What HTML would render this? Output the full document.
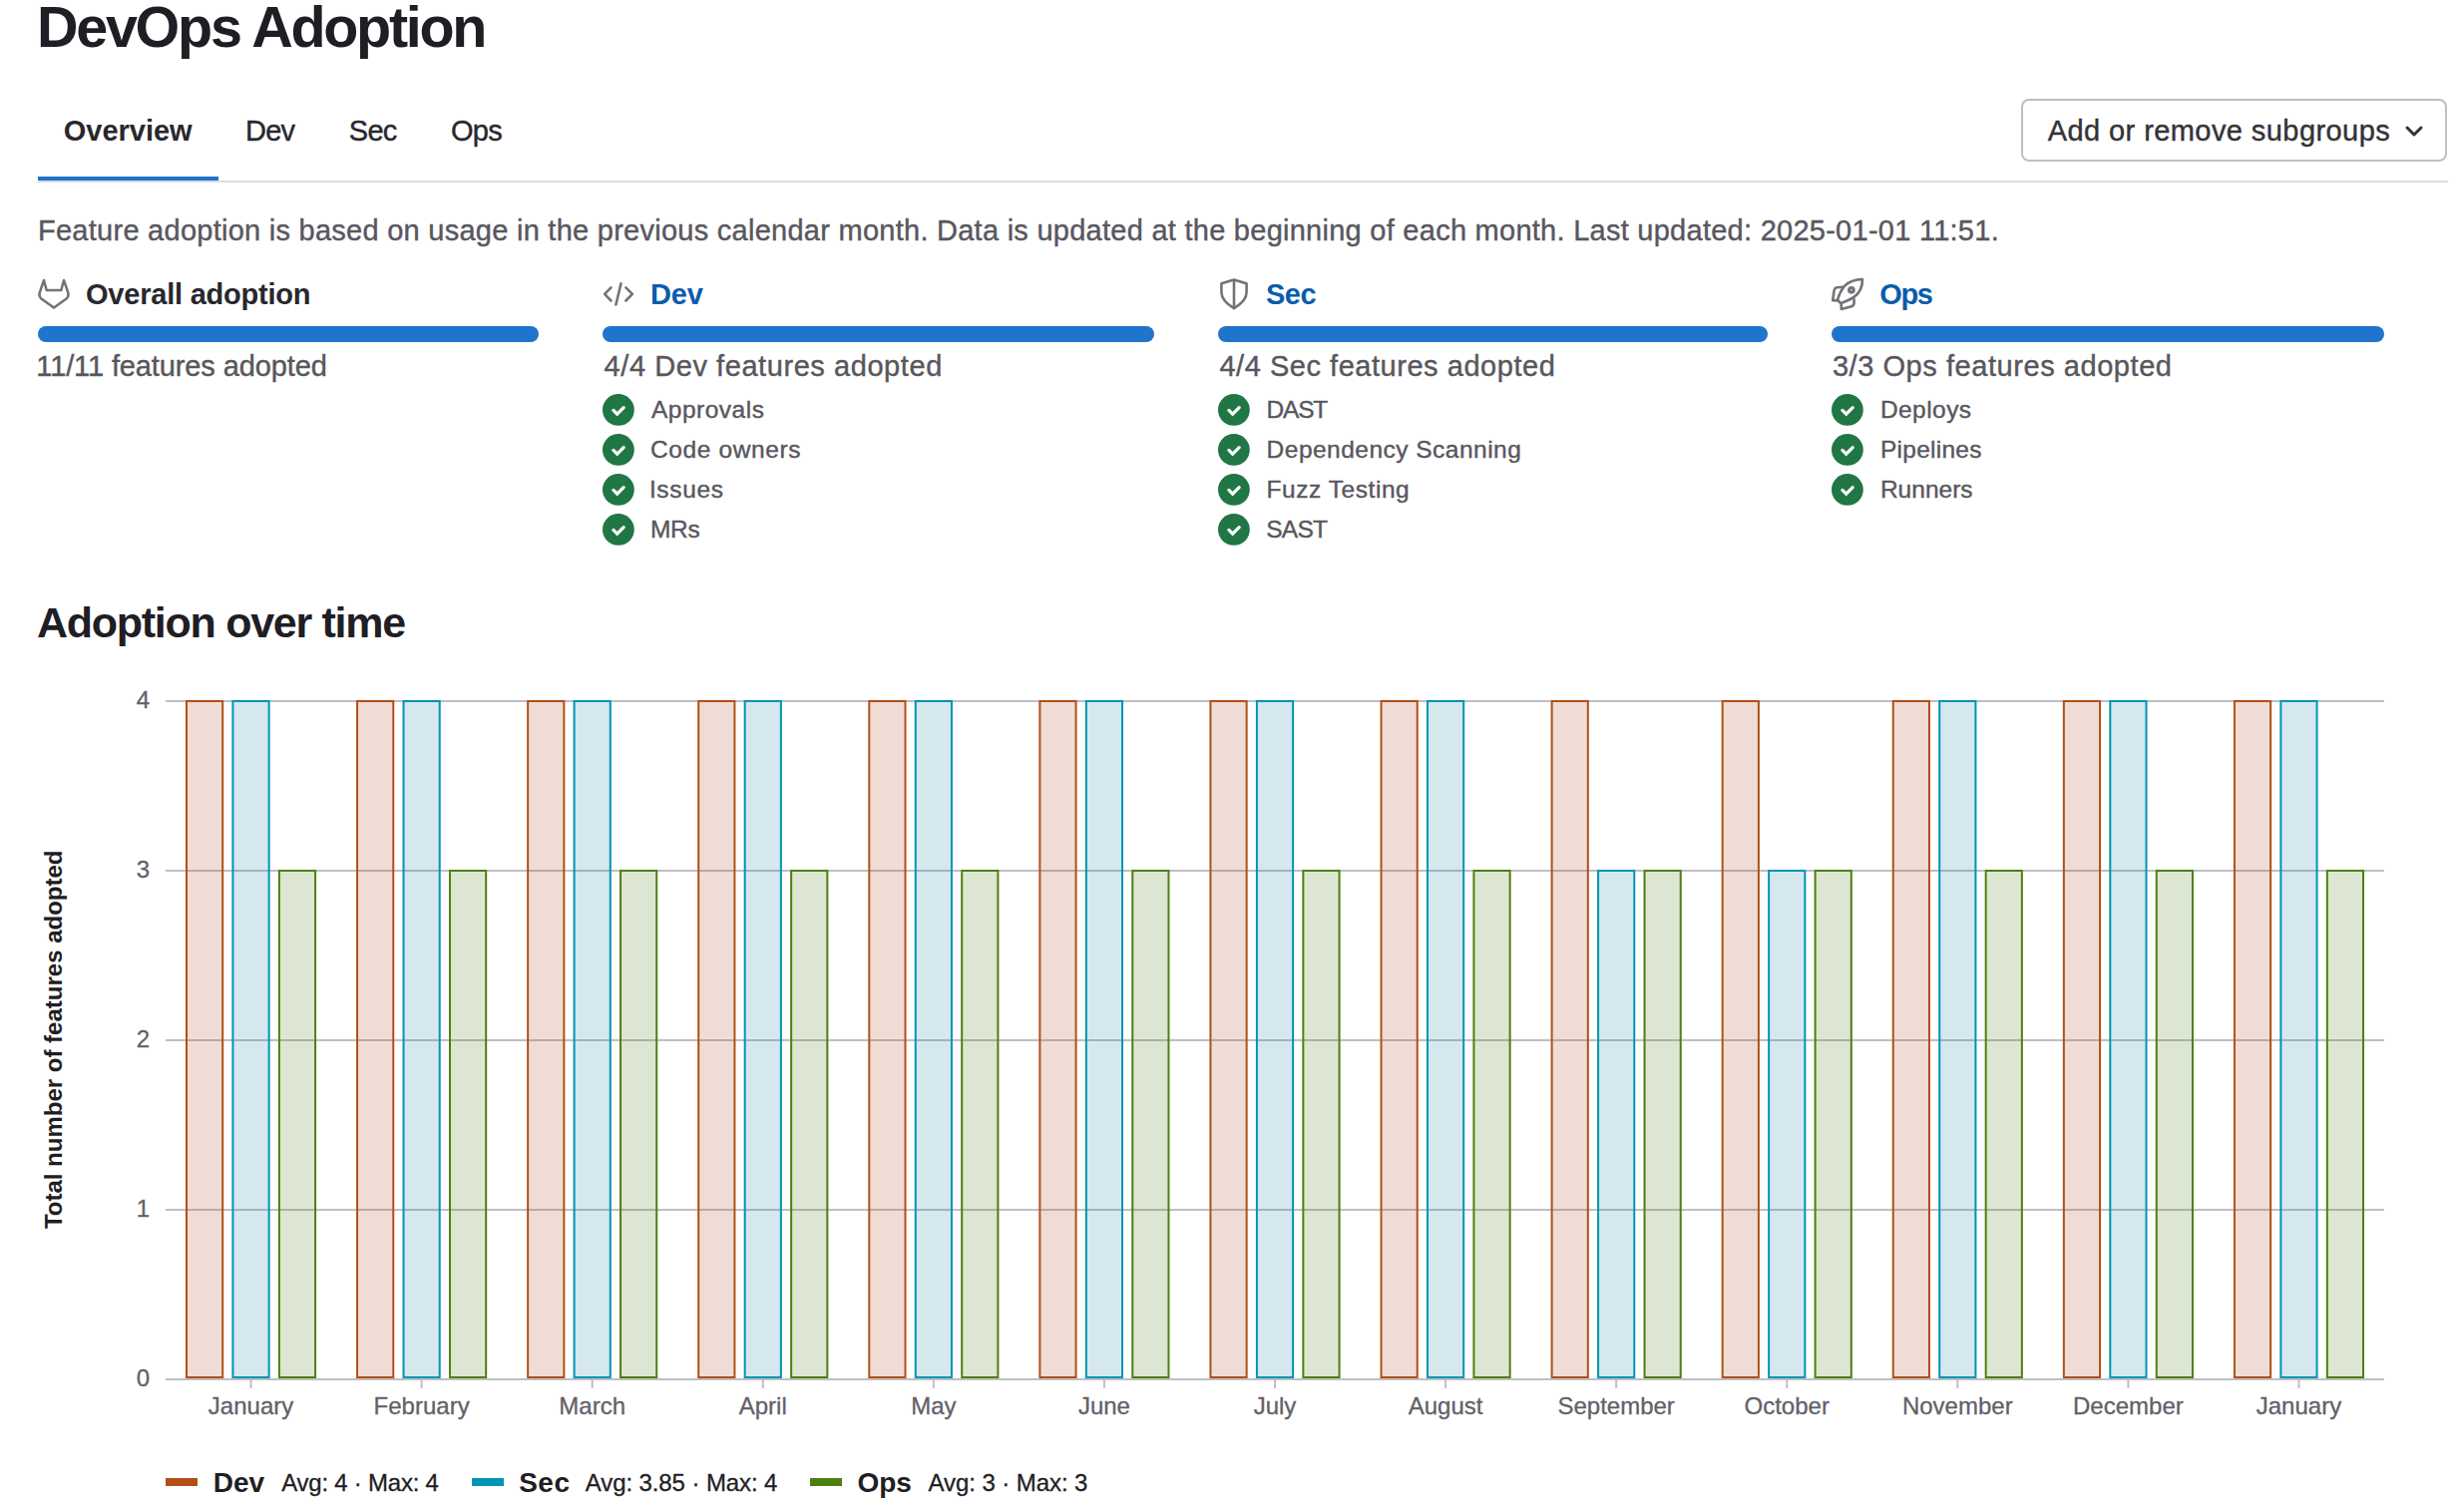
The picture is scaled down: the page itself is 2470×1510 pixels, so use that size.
<!DOCTYPE html>
<html><head><meta charset="utf-8"><title>DevOps Adoption</title>
<style>
html,body{margin:0;padding:0;background:#fff;}
body{width:2470px;height:1510px;position:relative;overflow:hidden;font-family:"Liberation Sans",sans-serif;}
.t{position:absolute;white-space:nowrap;line-height:1;}
svg{position:absolute;left:0;top:0;}
</style></head><body>
<div style="position:absolute;left:38px;top:181px;width:2416px;height:2px;background:#dcdcde;"></div>
<div style="position:absolute;left:38px;top:177px;width:181px;height:4px;background:#1f75cb;"></div>
<div style="position:absolute;left:2026px;top:99px;width:423px;height:59px;border:2px solid #bfbfc3;border-radius:8px;"></div>
<div style="position:absolute;left:38px;top:327px;width:502px;height:16px;border-radius:8px;background:#1f75cb;"></div>
<div style="position:absolute;left:604px;top:327px;width:553px;height:16px;border-radius:8px;background:#1f75cb;"></div>
<div style="position:absolute;left:1221px;top:327px;width:551px;height:16px;border-radius:8px;background:#1f75cb;"></div>
<div style="position:absolute;left:1836px;top:327px;width:554px;height:16px;border-radius:8px;background:#1f75cb;"></div>
<div class="t" style="left:37.0px;top:-1.1px;font-size:57.5px;font-weight:700;color:#1f1e24;letter-spacing:-2.286px;">DevOps Adoption</div>
<div class="t" style="left:63.8px;top:116.8px;font-size:29px;font-weight:700;color:#28272d;letter-spacing:-0.029px;">Overview</div>
<div class="t" style="left:246.0px;top:116.8px;font-size:29px;font-weight:400;color:#28272d;letter-spacing:-0.750px;-webkit-text-stroke:0.4px #28272d;">Dev</div>
<div class="t" style="left:349.8px;top:116.8px;font-size:29px;font-weight:400;color:#28272d;letter-spacing:-0.700px;-webkit-text-stroke:0.4px #28272d;">Sec</div>
<div class="t" style="left:451.9px;top:116.8px;font-size:29px;font-weight:400;color:#28272d;letter-spacing:-0.650px;-webkit-text-stroke:0.4px #28272d;">Ops</div>
<div class="t" style="left:2052.7px;top:117.3px;font-size:29px;font-weight:400;color:#333238;letter-spacing:0.423px;-webkit-text-stroke:0.4px #333238;">Add or remove subgroups</div>
<div class="t" style="left:38.0px;top:217.0px;font-size:29px;font-weight:400;color:#58575e;letter-spacing:0.262px;-webkit-text-stroke:0.4px #58575e;">Feature adoption is based on usage in the previous calendar month. Data is updated at the beginning of each month. Last updated: 2025-01-01 11:51.</div>
<div class="t" style="left:86.0px;top:281.0px;font-size:29px;font-weight:700;color:#28272d;letter-spacing:-0.220px;">Overall adoption</div>
<div class="t" style="left:651.9px;top:281.1px;font-size:29px;font-weight:700;color:#0b5cad;letter-spacing:-0.100px;">Dev</div>
<div class="t" style="left:1269.0px;top:281.0px;font-size:29px;font-weight:700;color:#0b5cad;letter-spacing:-0.500px;">Sec</div>
<div class="t" style="left:1884.3px;top:281.0px;font-size:29px;font-weight:700;color:#0b5cad;letter-spacing:-1.350px;">Ops</div>
<div class="t" style="left:36.3px;top:353.4px;font-size:29px;font-weight:400;color:#58575e;letter-spacing:-0.119px;-webkit-text-stroke:0.4px #58575e;">11/11 features adopted</div>
<div class="t" style="left:605.6px;top:352.9px;font-size:29px;font-weight:400;color:#58575e;letter-spacing:0.565px;-webkit-text-stroke:0.4px #58575e;">4/4 Dev features adopted</div>
<div class="t" style="left:1222.4px;top:352.9px;font-size:29px;font-weight:400;color:#58575e;letter-spacing:0.535px;-webkit-text-stroke:0.4px #58575e;">4/4 Sec features adopted</div>
<div class="t" style="left:1836.9px;top:352.9px;font-size:29px;font-weight:400;color:#58575e;letter-spacing:0.557px;-webkit-text-stroke:0.4px #58575e;">3/3 Ops features adopted</div>
<div class="t" style="left:652.9px;top:398.9px;font-size:24.5px;font-weight:400;color:#58575e;letter-spacing:0.513px;-webkit-text-stroke:0.4px #58575e;">Approvals</div>
<div class="t" style="left:651.9px;top:438.8px;font-size:24.5px;font-weight:400;color:#58575e;letter-spacing:0.630px;-webkit-text-stroke:0.4px #58575e;">Code owners</div>
<div class="t" style="left:650.9px;top:478.9px;font-size:24.5px;font-weight:400;color:#58575e;letter-spacing:0.660px;-webkit-text-stroke:0.4px #58575e;">Issues</div>
<div class="t" style="left:651.9px;top:518.9px;font-size:24.5px;font-weight:400;color:#58575e;letter-spacing:-0.300px;-webkit-text-stroke:0.4px #58575e;">MRs</div>
<div class="t" style="left:1269.6px;top:398.9px;font-size:24.5px;font-weight:400;color:#58575e;letter-spacing:-1.200px;-webkit-text-stroke:0.4px #58575e;">DAST</div>
<div class="t" style="left:1269.6px;top:438.8px;font-size:24.5px;font-weight:400;color:#58575e;letter-spacing:0.483px;-webkit-text-stroke:0.4px #58575e;">Dependency Scanning</div>
<div class="t" style="left:1269.6px;top:478.9px;font-size:24.5px;font-weight:400;color:#58575e;letter-spacing:0.545px;-webkit-text-stroke:0.4px #58575e;">Fuzz Testing</div>
<div class="t" style="left:1269.3px;top:518.9px;font-size:24.5px;font-weight:400;color:#58575e;letter-spacing:-0.800px;-webkit-text-stroke:0.4px #58575e;">SAST</div>
<div class="t" style="left:1884.9px;top:398.9px;font-size:24.5px;font-weight:400;color:#58575e;letter-spacing:0.450px;-webkit-text-stroke:0.4px #58575e;">Deploys</div>
<div class="t" style="left:1884.9px;top:438.8px;font-size:24.5px;font-weight:400;color:#58575e;letter-spacing:0.275px;-webkit-text-stroke:0.4px #58575e;">Pipelines</div>
<div class="t" style="left:1884.9px;top:478.9px;font-size:24.5px;font-weight:400;color:#58575e;letter-spacing:0.017px;-webkit-text-stroke:0.4px #58575e;">Runners</div>
<div class="t" style="left:37.1px;top:602.8px;font-size:43px;font-weight:700;color:#1f1e24;letter-spacing:-1.282px;">Adoption over time</div>
<div class="t" style="left:213.8px;top:1472.8px;font-size:28px;font-weight:700;color:#1f1e24;letter-spacing:-0.100px;">Dev</div>
<div class="t" style="left:282.2px;top:1475.1px;font-size:24px;font-weight:400;color:#1f1e24;letter-spacing:-0.229px;-webkit-text-stroke:0.3px #1f1e24;">Avg: 4 · Max: 4</div>
<div class="t" style="left:520.2px;top:1472.8px;font-size:28px;font-weight:700;color:#1f1e24;letter-spacing:0.500px;">Sec</div>
<div class="t" style="left:586.8px;top:1475.1px;font-size:24px;font-weight:400;color:#1f1e24;letter-spacing:-0.100px;-webkit-text-stroke:0.3px #1f1e24;">Avg: 3.85 · Max: 4</div>
<div class="t" style="left:859.5px;top:1472.8px;font-size:28px;font-weight:700;color:#1f1e24;letter-spacing:-0.100px;">Ops</div>
<div class="t" style="left:930.6px;top:1475.1px;font-size:24px;font-weight:400;color:#1f1e24;letter-spacing:-0.079px;-webkit-text-stroke:0.3px #1f1e24;">Avg: 3 · Max: 3</div>
<svg width="2470" height="1510" viewBox="0 0 2470 1510">
 <path d="M2413 128 L2420 135 L2427 128" fill="none" stroke="#333238" stroke-width="3" stroke-linecap="round" stroke-linejoin="round"/>
 <g transform="translate(38 279) scale(2)" fill="none" stroke="#737278" stroke-width="1.25" stroke-linejoin="round">
  <path d="M3 1 L4.35 6 H11.65 L13 1 L15.2 7.4 Q15.5 9.3 14.3 10.2 L8 14.8 L1.7 10.2 Q0.5 9.3 0.8 7.4 Z"/>
 </g>
 <g fill="none" stroke="#737278" stroke-width="2.6" stroke-linecap="round" stroke-linejoin="round">
  <path d="M612.5 288.4 L606.1 294.9 L612.5 301.5"/>
  <path d="M622.5 284.3 L617.4 305.5"/>
  <path d="M627.4 288.4 L633.9 294.9 L627.4 301.5"/>
 </g>
 <g fill="none" stroke="#737278" stroke-width="2.6" stroke-linejoin="round">
  <path d="M1237 280.6 L1249.6 284.2 V293 Q1249.6 301.5 1237 309.2 Q1224.4 301.5 1224.4 293 V284.2 Z"/>
  <path d="M1237 281 V308.5"/>
 </g>
 <g transform="translate(1836 279) scale(2)" fill="none" stroke="#737278" stroke-width="1.3" stroke-linejoin="round">
  <path d="M15.5 0.5 Q15.6 6.5 11 9.6 Q9 10.9 4.6 12.6 L3 10.8 Q4.2 6.6 6.6 3.8 Q9.6 0.7 15.5 0.5 Z"/>
  <path d="M6.1 4.4 L2.6 4.6 Q1.6 4.8 1.3 6.1 L0.6 11.1 L3.2 11.2"/>
  <path d="M11.3 10.1 L11.3 12.5 Q11.1 13.8 10 14.1 L4.9 15.5 L4.9 12.5"/>
  <circle cx="9.95" cy="5.9" r="1.15" stroke-width="1.55"/>
 </g>
 <circle cx="619.9" cy="410.9" r="15.9" fill="#217645"/><path d="M614.90 411.40 L618.65 415.15 L625.20 408.60" fill="none" stroke="#fff" stroke-width="3.2" stroke-linecap="round" stroke-linejoin="miter"/>
<circle cx="619.9" cy="450.9" r="15.9" fill="#217645"/><path d="M614.90 451.40 L618.65 455.15 L625.20 448.60" fill="none" stroke="#fff" stroke-width="3.2" stroke-linecap="round" stroke-linejoin="miter"/>
<circle cx="619.9" cy="490.9" r="15.9" fill="#217645"/><path d="M614.90 491.40 L618.65 495.15 L625.20 488.60" fill="none" stroke="#fff" stroke-width="3.2" stroke-linecap="round" stroke-linejoin="miter"/>
<circle cx="619.9" cy="530.9" r="15.9" fill="#217645"/><path d="M614.90 531.40 L618.65 535.15 L625.20 528.60" fill="none" stroke="#fff" stroke-width="3.2" stroke-linecap="round" stroke-linejoin="miter"/>
<circle cx="1236.9" cy="410.9" r="15.9" fill="#217645"/><path d="M1231.90 411.40 L1235.65 415.15 L1242.20 408.60" fill="none" stroke="#fff" stroke-width="3.2" stroke-linecap="round" stroke-linejoin="miter"/>
<circle cx="1236.9" cy="450.9" r="15.9" fill="#217645"/><path d="M1231.90 451.40 L1235.65 455.15 L1242.20 448.60" fill="none" stroke="#fff" stroke-width="3.2" stroke-linecap="round" stroke-linejoin="miter"/>
<circle cx="1236.9" cy="490.9" r="15.9" fill="#217645"/><path d="M1231.90 491.40 L1235.65 495.15 L1242.20 488.60" fill="none" stroke="#fff" stroke-width="3.2" stroke-linecap="round" stroke-linejoin="miter"/>
<circle cx="1236.9" cy="530.9" r="15.9" fill="#217645"/><path d="M1231.90 531.40 L1235.65 535.15 L1242.20 528.60" fill="none" stroke="#fff" stroke-width="3.2" stroke-linecap="round" stroke-linejoin="miter"/>
<circle cx="1851.9" cy="410.9" r="15.9" fill="#217645"/><path d="M1846.90 411.40 L1850.65 415.15 L1857.20 408.60" fill="none" stroke="#fff" stroke-width="3.2" stroke-linecap="round" stroke-linejoin="miter"/>
<circle cx="1851.9" cy="450.9" r="15.9" fill="#217645"/><path d="M1846.90 451.40 L1850.65 455.15 L1857.20 448.60" fill="none" stroke="#fff" stroke-width="3.2" stroke-linecap="round" stroke-linejoin="miter"/>
<circle cx="1851.9" cy="490.9" r="15.9" fill="#217645"/><path d="M1846.90 491.40 L1850.65 495.15 L1857.20 488.60" fill="none" stroke="#fff" stroke-width="3.2" stroke-linecap="round" stroke-linejoin="miter"/>
</svg>
<svg width="2470" height="1510" viewBox="0 0 2470 1510" style="font-family:'Liberation Sans',sans-serif;">
 <g stroke="#bfbfc3" stroke-width="2">
  <line x1="166" y1="703" x2="2390" y2="703"/>
  <line x1="166" y1="873" x2="2390" y2="873"/>
  <line x1="166" y1="1043" x2="2390" y2="1043"/>
  <line x1="166" y1="1213" x2="2390" y2="1213"/>
 </g>
 <rect x="187.00" y="703.0" width="36.20" height="678.0" fill="#af552d" fill-opacity="0.2" stroke="#b14f18" stroke-width="2"/>
<rect x="233.45" y="703.0" width="36.20" height="678.0" fill="#2d8caa" fill-opacity="0.2" stroke="#0094b6" stroke-width="2"/>
<rect x="279.90" y="873.0" width="36.20" height="508.0" fill="#558223" fill-opacity="0.2" stroke="#4e7f0e" stroke-width="2"/>
<rect x="358.08" y="703.0" width="36.20" height="678.0" fill="#af552d" fill-opacity="0.2" stroke="#b14f18" stroke-width="2"/>
<rect x="404.53" y="703.0" width="36.20" height="678.0" fill="#2d8caa" fill-opacity="0.2" stroke="#0094b6" stroke-width="2"/>
<rect x="450.98" y="873.0" width="36.20" height="508.0" fill="#558223" fill-opacity="0.2" stroke="#4e7f0e" stroke-width="2"/>
<rect x="529.15" y="703.0" width="36.20" height="678.0" fill="#af552d" fill-opacity="0.2" stroke="#b14f18" stroke-width="2"/>
<rect x="575.60" y="703.0" width="36.20" height="678.0" fill="#2d8caa" fill-opacity="0.2" stroke="#0094b6" stroke-width="2"/>
<rect x="622.05" y="873.0" width="36.20" height="508.0" fill="#558223" fill-opacity="0.2" stroke="#4e7f0e" stroke-width="2"/>
<rect x="700.23" y="703.0" width="36.20" height="678.0" fill="#af552d" fill-opacity="0.2" stroke="#b14f18" stroke-width="2"/>
<rect x="746.68" y="703.0" width="36.20" height="678.0" fill="#2d8caa" fill-opacity="0.2" stroke="#0094b6" stroke-width="2"/>
<rect x="793.13" y="873.0" width="36.20" height="508.0" fill="#558223" fill-opacity="0.2" stroke="#4e7f0e" stroke-width="2"/>
<rect x="871.31" y="703.0" width="36.20" height="678.0" fill="#af552d" fill-opacity="0.2" stroke="#b14f18" stroke-width="2"/>
<rect x="917.76" y="703.0" width="36.20" height="678.0" fill="#2d8caa" fill-opacity="0.2" stroke="#0094b6" stroke-width="2"/>
<rect x="964.21" y="873.0" width="36.20" height="508.0" fill="#558223" fill-opacity="0.2" stroke="#4e7f0e" stroke-width="2"/>
<rect x="1042.38" y="703.0" width="36.20" height="678.0" fill="#af552d" fill-opacity="0.2" stroke="#b14f18" stroke-width="2"/>
<rect x="1088.83" y="703.0" width="36.20" height="678.0" fill="#2d8caa" fill-opacity="0.2" stroke="#0094b6" stroke-width="2"/>
<rect x="1135.28" y="873.0" width="36.20" height="508.0" fill="#558223" fill-opacity="0.2" stroke="#4e7f0e" stroke-width="2"/>
<rect x="1213.46" y="703.0" width="36.20" height="678.0" fill="#af552d" fill-opacity="0.2" stroke="#b14f18" stroke-width="2"/>
<rect x="1259.91" y="703.0" width="36.20" height="678.0" fill="#2d8caa" fill-opacity="0.2" stroke="#0094b6" stroke-width="2"/>
<rect x="1306.36" y="873.0" width="36.20" height="508.0" fill="#558223" fill-opacity="0.2" stroke="#4e7f0e" stroke-width="2"/>
<rect x="1384.54" y="703.0" width="36.20" height="678.0" fill="#af552d" fill-opacity="0.2" stroke="#b14f18" stroke-width="2"/>
<rect x="1430.99" y="703.0" width="36.20" height="678.0" fill="#2d8caa" fill-opacity="0.2" stroke="#0094b6" stroke-width="2"/>
<rect x="1477.44" y="873.0" width="36.20" height="508.0" fill="#558223" fill-opacity="0.2" stroke="#4e7f0e" stroke-width="2"/>
<rect x="1555.62" y="703.0" width="36.20" height="678.0" fill="#af552d" fill-opacity="0.2" stroke="#b14f18" stroke-width="2"/>
<rect x="1602.07" y="873.0" width="36.20" height="508.0" fill="#2d8caa" fill-opacity="0.2" stroke="#0094b6" stroke-width="2"/>
<rect x="1648.52" y="873.0" width="36.20" height="508.0" fill="#558223" fill-opacity="0.2" stroke="#4e7f0e" stroke-width="2"/>
<rect x="1726.69" y="703.0" width="36.20" height="678.0" fill="#af552d" fill-opacity="0.2" stroke="#b14f18" stroke-width="2"/>
<rect x="1773.14" y="873.0" width="36.20" height="508.0" fill="#2d8caa" fill-opacity="0.2" stroke="#0094b6" stroke-width="2"/>
<rect x="1819.59" y="873.0" width="36.20" height="508.0" fill="#558223" fill-opacity="0.2" stroke="#4e7f0e" stroke-width="2"/>
<rect x="1897.77" y="703.0" width="36.20" height="678.0" fill="#af552d" fill-opacity="0.2" stroke="#b14f18" stroke-width="2"/>
<rect x="1944.22" y="703.0" width="36.20" height="678.0" fill="#2d8caa" fill-opacity="0.2" stroke="#0094b6" stroke-width="2"/>
<rect x="1990.67" y="873.0" width="36.20" height="508.0" fill="#558223" fill-opacity="0.2" stroke="#4e7f0e" stroke-width="2"/>
<rect x="2068.85" y="703.0" width="36.20" height="678.0" fill="#af552d" fill-opacity="0.2" stroke="#b14f18" stroke-width="2"/>
<rect x="2115.30" y="703.0" width="36.20" height="678.0" fill="#2d8caa" fill-opacity="0.2" stroke="#0094b6" stroke-width="2"/>
<rect x="2161.75" y="873.0" width="36.20" height="508.0" fill="#558223" fill-opacity="0.2" stroke="#4e7f0e" stroke-width="2"/>
<rect x="2239.92" y="703.0" width="36.20" height="678.0" fill="#af552d" fill-opacity="0.2" stroke="#b14f18" stroke-width="2"/>
<rect x="2286.37" y="703.0" width="36.20" height="678.0" fill="#2d8caa" fill-opacity="0.2" stroke="#0094b6" stroke-width="2"/>
<rect x="2332.82" y="873.0" width="36.20" height="508.0" fill="#558223" fill-opacity="0.2" stroke="#4e7f0e" stroke-width="2"/>
 <line x1="166" y1="1383" x2="2390" y2="1383" stroke="#bfbfc3" stroke-width="2"/>
 <g stroke="#bfbfc3" stroke-width="2"><line x1="251.54" y1="1384" x2="251.54" y2="1392"/><line x1="422.62" y1="1384" x2="422.62" y2="1392"/><line x1="593.69" y1="1384" x2="593.69" y2="1392"/><line x1="764.77" y1="1384" x2="764.77" y2="1392"/><line x1="935.85" y1="1384" x2="935.85" y2="1392"/><line x1="1106.92" y1="1384" x2="1106.92" y2="1392"/><line x1="1278.00" y1="1384" x2="1278.00" y2="1392"/><line x1="1449.08" y1="1384" x2="1449.08" y2="1392"/><line x1="1620.15" y1="1384" x2="1620.15" y2="1392"/><line x1="1791.23" y1="1384" x2="1791.23" y2="1392"/><line x1="1962.31" y1="1384" x2="1962.31" y2="1392"/><line x1="2133.38" y1="1384" x2="2133.38" y2="1392"/><line x1="2304.46" y1="1384" x2="2304.46" y2="1392"/></g>
 <g font-size="24" fill="#626168" stroke="#626168" stroke-width="0.3" text-anchor="end">
  <text x="150" y="709.5">4</text>
  <text x="150" y="879.5">3</text>
  <text x="150" y="1049.5">2</text>
  <text x="150" y="1219.5">1</text>
  <text x="150" y="1389.5">0</text>
 </g>
 <g font-size="24" fill="#626168" stroke="#626168" stroke-width="0.3" text-anchor="middle"><text x="251.54" y="1418">January</text><text x="422.62" y="1418">February</text><text x="593.69" y="1418">March</text><text x="764.77" y="1418">April</text><text x="935.85" y="1418">May</text><text x="1106.92" y="1418">June</text><text x="1278.00" y="1418">July</text><text x="1449.08" y="1418">August</text><text x="1620.15" y="1418">September</text><text x="1791.23" y="1418">October</text><text x="1962.31" y="1418">November</text><text x="2133.38" y="1418">December</text><text x="2304.46" y="1418">January</text></g>
 <text transform="translate(62.3 1042.3) rotate(-90)" font-size="24" font-weight="700" fill="#1f1e24" text-anchor="middle">Total number of features adopted</text>
 <rect x="166" y="1482" width="32" height="8" fill="#b14f18"/>
 <rect x="473" y="1482" width="32" height="8" fill="#0094b6"/>
 <rect x="812" y="1482" width="32" height="8" fill="#4e7f0e"/>
</svg>
</body></html>
